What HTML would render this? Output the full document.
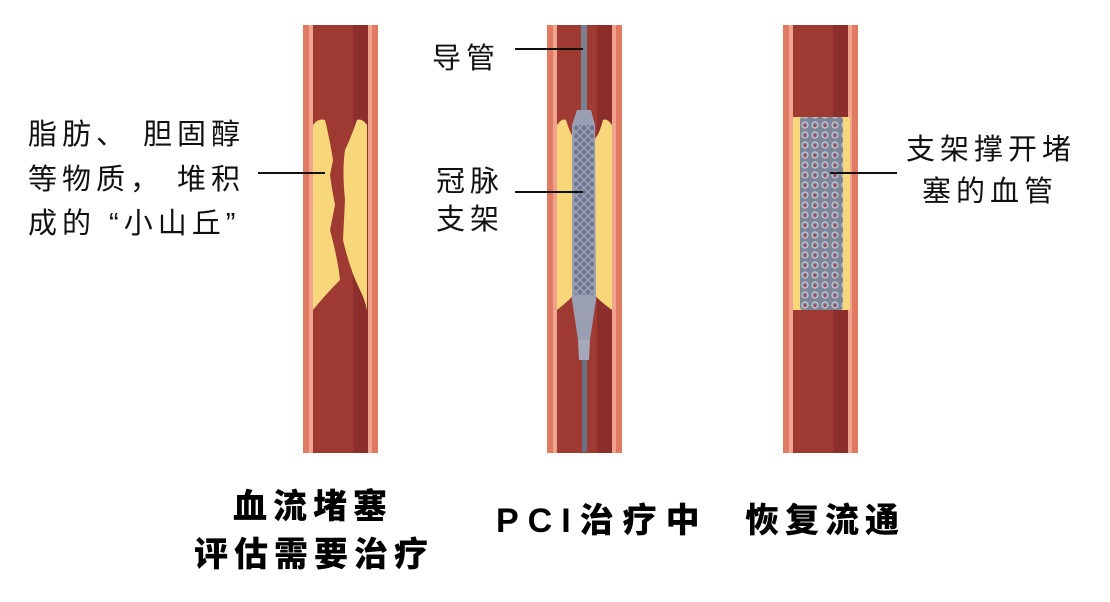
<!DOCTYPE html>
<html><head><meta charset="utf-8"><style>
html,body{margin:0;padding:0;background:#fff;}
svg{display:block}
.t{font-family:"Liberation Sans","Noto Sans CJK SC",sans-serif;font-size:29px;fill:#111;letter-spacing:5px}
.b{font-family:"Liberation Sans","Noto Sans CJK SC",sans-serif;font-size:34px;font-weight:900;fill:#000;letter-spacing:6px}
</style></head><body>
<svg width="1110" height="602" viewBox="0 0 1110 602" xmlns="http://www.w3.org/2000/svg">
<defs>
<g id="vessel">
<rect x="0" y="0" width="75" height="428" fill="#e07a62"/>
<rect x="6" y="0" width="4" height="428" fill="#f0a48e"/>
<rect x="65" y="0" width="4" height="428" fill="#f0a48e"/>
<rect x="10" y="0" width="55" height="428" fill="#9e3a32"/>
<rect x="50" y="0" width="15" height="428" fill="#8c2f2c"/>
</g>
<pattern id="mesh" width="10" height="10" patternUnits="userSpaceOnUse">
<rect width="10" height="10" fill="#7d8699"/>
<circle cx="5" cy="5" r="3" fill="none" stroke="#c8ccd8" stroke-width="1.2"/>
<rect x="4" y="4" width="2" height="3" fill="#a4485a"/>
</pattern>
<pattern id="mesh2" width="8" height="8" patternUnits="userSpaceOnUse">
<rect width="8" height="8" fill="#6f7890"/>
<path d="M0 4 L4 0 L8 4 L4 8Z" fill="none" stroke="#aab0c2" stroke-width="1"/>
</pattern>
</defs>

<!-- vessel 1 -->
<use href="#vessel" x="303" y="25"/>
<path d="M313 125 Q318 118 325 120 Q330 140 333 160 L330 175 Q332 190 335 205 L330 230 Q338 260 340 280 Q325 295 313 310 Z" fill="#f7d77a"/>
<path d="M367 125 Q362 118 357 120 Q350 140 345 150 Q342 170 345 200 L343 240 Q350 270 360 290 Q365 300 367 310 Z" fill="#f7d77a"/>

<!-- vessel 2 -->
<use href="#vessel" x="547" y="25"/>
<path d="M557 125 Q562 118 566 120 Q572 140 578 142 L578 290 Q570 300 557 310 Z" fill="#f7d77a"/>
<path d="M612 125 Q607 118 603 120 Q598 140 590 142 L590 290 Q598 300 612 310 Z" fill="#f7d77a"/>
<rect x="581" y="25" width="6" height="90" fill="#7a8094"/>
<rect x="582" y="360" width="5" height="92" fill="#6a7084"/>
<path d="M577 110 L591 110 L595 125 L596 300 L590 340 L578 340 L572 300 L572 125 Z" fill="#9aa0b2"/>
<rect x="574" y="125" width="20" height="170" fill="url(#mesh2)"/>
<path d="M578 340 L590 340 L589 360 L579 360 Z" fill="#a4aabb"/>

<!-- vessel 3 -->
<use href="#vessel" x="783" y="25"/>
<rect x="793" y="117" width="10" height="193" fill="#f7d77a"/>
<rect x="841" y="117" width="9" height="193" fill="#f7d77a"/>
<rect x="800" y="117" width="43" height="193" rx="3" fill="url(#mesh)"/>

<!-- leader lines -->
<g stroke="#111" stroke-width="2">
<line x1="258" y1="173" x2="325" y2="173"/>
<line x1="515" y1="49" x2="583" y2="49"/>
<line x1="515" y1="192" x2="583" y2="192"/>
<line x1="830" y1="173" x2="897" y2="173"/>
</g>

<!-- labels -->
<text class="t" x="28" y="144">脂肪、 胆固醇</text>
<text class="t" x="28" y="189">等物质， 堆积</text>
<text class="t" x="28" y="233">成的 “小山丘”</text>
<text class="t" x="432" y="68">导管</text>
<text class="t" x="436" y="191">冠脉</text>
<text class="t" x="436" y="229">支架</text>
<text class="t" x="906" y="159">支架撑开堵</text>
<text class="t" x="922" y="201">塞的血管</text>

<text class="b" x="233" y="518">血流堵塞</text>
<text class="b" x="194" y="566">评估需要治疗</text>
<text class="b" x="496" y="532" style="letter-spacing:9px">PCI治疗中</text>
<text class="b" x="745" y="532">恢复流通</text>
</svg>
</body></html>
